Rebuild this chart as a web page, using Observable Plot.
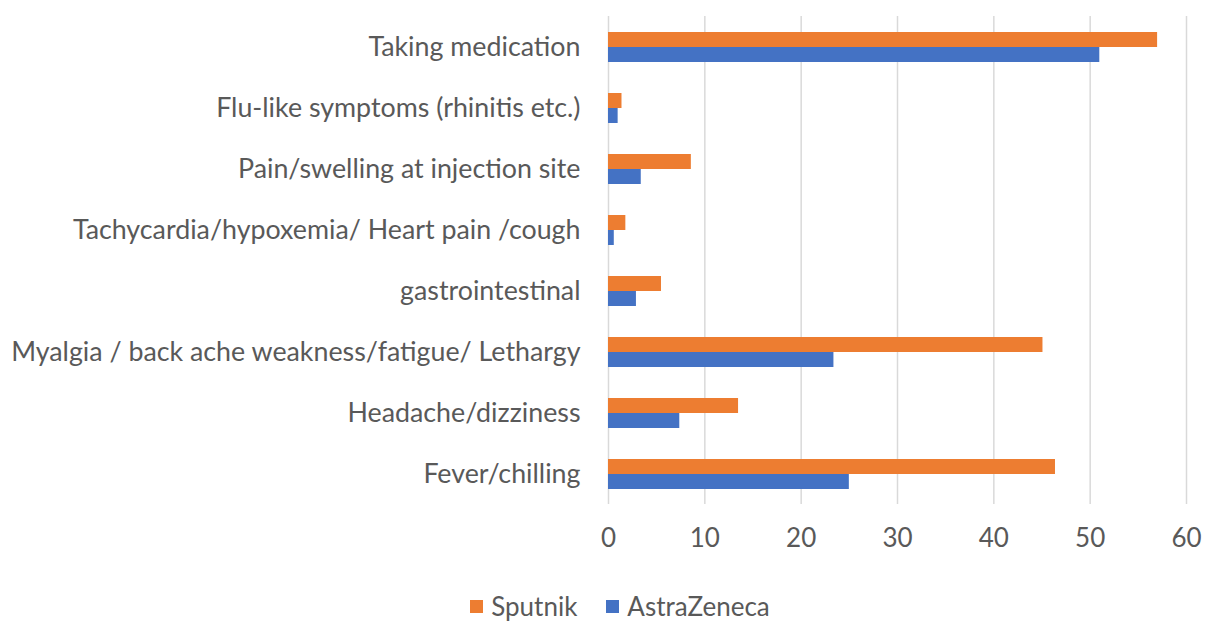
<!DOCTYPE html>
<html>
<head>
<meta charset="utf-8">
<script src="https://cdn.jsdelivr.net/npm/d3@7"></script>
<script src="https://cdn.jsdelivr.net/npm/@observablehq/plot@0.6"></script>
<style>
  html, body { margin: 0; padding: 0; background: #fff; }
  #chart { width: 1208px; }
  .legend { display: flex; justify-content: center; align-items: center; gap: 29px;
    font-family: Lato, "Open Sans", sans-serif; font-size: 26px; color: #595959;
    margin-top: 20px; padding-left: 32px; line-height: 32px; }
  .legend span.item { display: flex; align-items: center; }
  .legend span.sw { display: inline-block; width: 13px; height: 13px; margin-right: 8px; }
</style>
</head>
<body>
<div id="chart"></div>
<script>
const categories = [
  "Taking medication",
  "Flu-like symptoms (rhinitis etc.)",
  "Pain/swelling at injection site",
  "Tachycardia/hypoxemia/ Heart pain /cough",
  "gastrointestinal",
  "Myalgia / back ache weakness/fatigue/ Lethargy",
  "Headache/dizziness",
  "Fever/chilling"
];
const series = ["Sputnik", "AstraZeneca"];
const seriesColors = ["#ED7D31", "#4472C4"];
const sputnik = [57.0, 1.4, 8.6, 1.8, 5.5, 45.1, 13.5, 46.4];
const astrazeneca = [51.0, 1.0, 3.4, 0.6, 2.9, 23.4, 7.4, 25.0];
const xTicks = [0, 10, 20, 30, 40, 50, 60];

const data = categories.flatMap((c, i) => [
  {category: c, series: "Sputnik", value: sputnik[i]},
  {category: c, series: "AstraZeneca", value: astrazeneca[i]}
]);

const chart = Plot.plot({
  width: 1208,
  height: 570,
  marginLeft: 608,
  marginRight: 22,
  marginTop: 15,
  marginBottom: 65,
  style: {fontFamily: "Lato, 'Open Sans', sans-serif", background: "#fff"},
  x: {domain: [0, 60], axis: null},
  y: {domain: series, axis: null, paddingInner: 0, paddingOuter: 0.95},
  fy: {domain: categories, padding: 0, axis: null},
  color: {domain: series, range: seriesColors},
  marks: [
    Plot.gridX(xTicks, {stroke: "#d9d9d9", strokeOpacity: 1, strokeWidth: 1.5}),
    Plot.barX(data, {x: "value", y: "series", fy: "category", fill: "series"}),
    Plot.axisX({ticks: xTicks, tickSize: 0, tickPadding: 24, fontSize: 26, fill: "#595959", label: null}),
    Plot.axisFy({anchor: "left", tickSize: 0, tickPadding: 28, fontSize: 26.8, fill: "#595959", label: null})
  ]
});
document.getElementById("chart").appendChild(chart);

const legend = document.createElement("div");
legend.className = "legend";
series.forEach((s, i) => {
  const item = document.createElement("span");
  item.className = "item";
  const sw = document.createElement("span");
  sw.className = "sw";
  sw.style.background = seriesColors[i];
  item.appendChild(sw);
  item.appendChild(document.createTextNode(s));
  legend.appendChild(item);
});
document.body.appendChild(legend);
</script>
</body>
</html>
